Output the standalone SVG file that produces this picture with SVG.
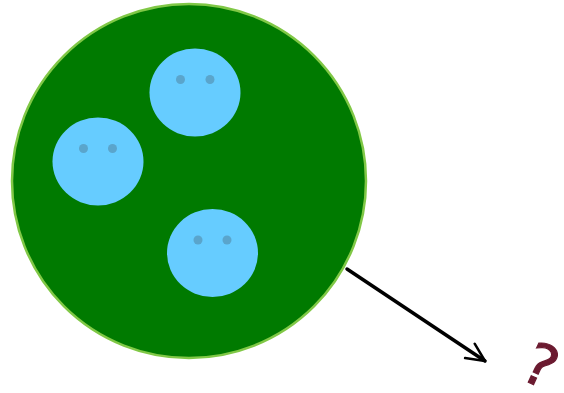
<svg xmlns="http://www.w3.org/2000/svg" width="564" height="393" viewBox="0 0 564 393">
<style>
.face{fill:#66ccff}
.eye{fill:#5aa5cc}
.conn{stroke:#000;stroke-width:3.5;fill:none;stroke-linecap:round}
</style>
<defs>
<marker id="ah" viewBox="0 0 10 10" refX="9" refY="5" markerWidth="6.5" markerHeight="6.5" orient="auto" markerUnits="strokeWidth">
<path d="M1,1.2 L9,5 L1,8.8" fill="none" stroke="#000" stroke-width="1.1" stroke-linecap="round" stroke-linejoin="round"/>
</marker>
</defs>
<g id="cell">
<circle cx="189" cy="181" r="177" fill="#007a00" stroke="#80c846" stroke-width="2.5"/>
</g>
<g id="face1">
<ellipse class="face" cx="195" cy="92.5" rx="45.5" ry="44"/>
<circle class="eye" cx="180.5" cy="79.5" r="4.5"/>
<circle class="eye" cx="210" cy="79.5" r="4.5"/>
</g>
<g id="face2">
<ellipse class="face" cx="98" cy="161.5" rx="45.5" ry="44"/>
<circle class="eye" cx="83.5" cy="148.5" r="4.5"/>
<circle class="eye" cx="112.5" cy="148.5" r="4.5"/>
</g>
<g id="face3">
<ellipse class="face" cx="212.5" cy="253" rx="45.5" ry="44"/>
<circle class="eye" cx="198" cy="240" r="4.5"/>
<circle class="eye" cx="227" cy="240" r="4.5"/>
</g>
<g id="connectors">
<line class="conn" x1="347" y1="269" x2="485" y2="361" marker-end="url(#ah)"/>
</g>
<g id="question">
<text transform="translate(541,365) rotate(25)" x="0" y="21" font-family="'DejaVu Sans', sans-serif" font-size="58" fill="#6b1a30" stroke="#6b1a30" stroke-width="1.2" text-anchor="middle">?</text>
</g>
</svg>
